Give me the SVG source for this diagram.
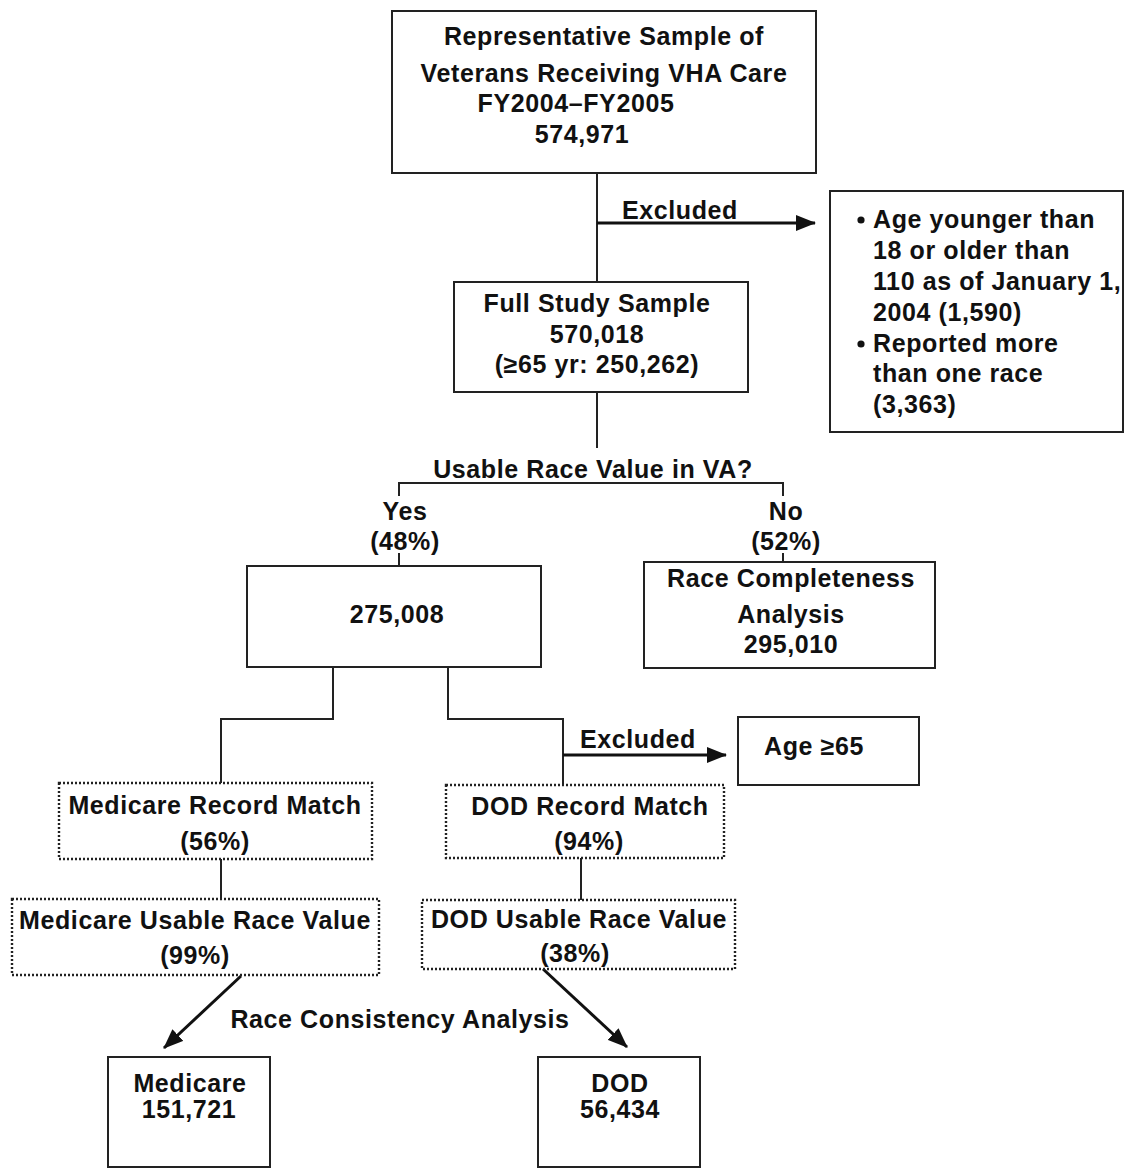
<svg xmlns="http://www.w3.org/2000/svg" width="1124" height="1170" viewBox="0 0 1124 1170">
<defs>
<style>
text{font-family:"Liberation Sans",Arial,sans-serif;font-weight:bold;font-size:25px;letter-spacing:0.6px;fill:#111}
.c{text-anchor:middle}
.box{fill:#fff;stroke:#222;stroke-width:2}
.dot{fill:#fff;stroke:#222;stroke-width:2.4;stroke-dasharray:2 2}
.ln{fill:none;stroke:#222;stroke-width:2}
.ar{fill:none;stroke:#111;stroke-width:3}
</style>
<marker id="ah" viewBox="0 0 20 16" refX="19" refY="8" markerWidth="20" markerHeight="16" markerUnits="userSpaceOnUse" orient="auto">
<path d="M0,0 L20,8 L0,16 z" fill="#111"/>
</marker>
</defs>
<rect width="1124" height="1170" fill="#fff"/>
<g id="connectors">
<line class="ln" x1="597" y1="173" x2="597" y2="282"/>
<line class="ar" x1="597" y1="223" x2="815" y2="223" marker-end="url(#ah)"/>
<line class="ln" x1="597" y1="392" x2="597" y2="448"/>
<polyline class="ln" points="399,496 399,483 783,483 783,496"/>
<line class="ln" x1="399" y1="553" x2="399" y2="566"/>
<line class="ln" x1="783" y1="553" x2="783" y2="562"/>
<polyline class="ln" points="333,667 333,719 221,719 221,783"/>
<polyline class="ln" points="448,667 448,719 563,719 563,785"/>
<line class="ar" x1="563" y1="755" x2="726" y2="755" marker-end="url(#ah)"/>
<line class="ln" x1="221" y1="859" x2="221" y2="899"/>
<line class="ln" x1="581" y1="858" x2="581" y2="900"/>
<line class="ar" x1="241" y1="976" x2="164" y2="1048" marker-end="url(#ah)"/>
<line class="ar" x1="543" y1="969" x2="627" y2="1047" marker-end="url(#ah)"/>
<text x="680" y="219" class="c">Excluded</text>
<text x="593" y="478" class="c">Usable Race Value in VA?</text>
<text x="405" y="520" class="c">Yes</text>
<text x="405" y="550" class="c">(48%)</text>
<text x="786" y="520" class="c">No</text>
<text x="786" y="550" class="c">(52%)</text>
<text x="638" y="748" class="c">Excluded</text>
<text x="400" y="1028" class="c">Race Consistency Analysis</text>
</g>
<g id="n-top">
<rect class="box" x="392" y="11" width="424" height="162"/>
<text x="604" y="45" class="c">Representative Sample of</text>
<text x="604" y="82" class="c">Veterans Receiving VHA Care</text>
<text x="576" y="112" class="c">FY2004–FY2005</text>
<text x="582" y="143" class="c">574,971</text>
</g>
<g id="n-excl1">
<rect class="box" x="830" y="191" width="293" height="241"/>
<circle cx="861" cy="220" r="3.6" fill="#111"/>
<circle cx="861" cy="344" r="3.6" fill="#111"/>
<text x="873" y="228">Age younger than</text>
<text x="873" y="259">18 or older than</text>
<text x="873" y="290">110 as of January 1,</text>
<text x="873" y="321">2004 (1,590)</text>
<text x="873" y="352">Reported more</text>
<text x="873" y="382">than one race</text>
<text x="873" y="413">(3,363)</text>
</g>
<g id="n-full">
<rect class="box" x="454" y="282" width="294" height="110"/>
<text x="597" y="312" class="c">Full Study Sample</text>
<text x="597" y="343" class="c">570,018</text>
<text x="597" y="373" class="c">(≥65 yr: 250,262)</text>
</g>
<g id="n-yes">
<rect class="box" x="247" y="566" width="294" height="101"/>
<text x="397" y="623" class="c">275,008</text>
</g>
<g id="n-no">
<rect class="box" x="644" y="562" width="291" height="106"/>
<text x="791" y="587" class="c">Race Completeness</text>
<text x="791" y="623" class="c">Analysis</text>
<text x="791" y="653" class="c">295,010</text>
</g>
<g id="n-age">
<rect class="box" x="738" y="717" width="181" height="68"/>
<text x="764" y="755">Age ≥65</text>
</g>
<g id="n-medmatch">
<rect class="dot" x="59" y="783" width="313" height="76"/>
<text x="215" y="814" class="c">Medicare Record Match</text>
<text x="215" y="850" class="c">(56%)</text>
</g>
<g id="n-dodmatch">
<rect class="dot" x="446" y="785" width="278" height="73"/>
<text x="590" y="815" class="c">DOD Record Match</text>
<text x="589" y="850" class="c">(94%)</text>
</g>
<g id="n-medusable">
<rect class="dot" x="12" y="899" width="367" height="76"/>
<text x="195" y="929" class="c">Medicare Usable Race Value</text>
<text x="195" y="964" class="c">(99%)</text>
</g>
<g id="n-dodusable">
<rect class="dot" x="422" y="900" width="313" height="69"/>
<text x="579" y="928" class="c">DOD Usable Race Value</text>
<text x="575" y="962" class="c">(38%)</text>
</g>
<g id="n-medicare">
<rect class="box" x="108" y="1057" width="162" height="110"/>
<text x="190" y="1092" class="c">Medicare</text>
<text x="189" y="1118" class="c">151,721</text>
</g>
<g id="n-dod">
<rect class="box" x="538" y="1057" width="162" height="110"/>
<text x="620" y="1092" class="c">DOD</text>
<text x="620" y="1118" class="c">56,434</text>
</g>
</svg>
